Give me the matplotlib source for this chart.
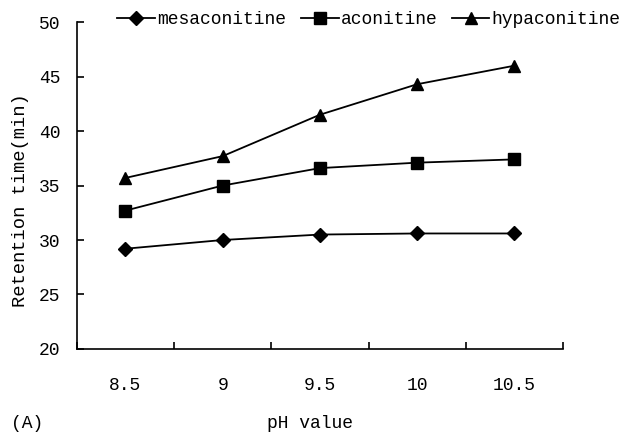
import numpy as np
import matplotlib
matplotlib.use('Agg')
import matplotlib.pyplot as plt

plt.rcParams['font.family'] = ['Liberation Mono', 'DejaVu Sans Mono']

# pH categories and retention times (min)
ph_labels = ['8.5', '9', '9.5', '10', '10.5']
mesaconitine = [29.2, 30.0, 30.5, 30.6, 30.6]
aconitine = [32.7, 35.0, 36.6, 37.1, 37.4]
hypaconitine = [35.7, 37.7, 41.5, 44.3, 46.0]

x = np.arange(len(ph_labels))

fig = plt.figure(figsize=(6.2, 4.34), dpi=100)
ax = fig.add_axes([0.124, 0.196, 0.784, 0.753])

ax.plot(x, mesaconitine, color='black', lw=1.3, marker='D', markersize=7, label='mesaconitine')
ax.plot(x, aconitine, color='black', lw=1.3, marker='s', markersize=8, label='aconitine')
ax.plot(x, hypaconitine, color='black', lw=1.3, marker='^', markersize=9, label='hypaconitine')

ax.set_xlim(-0.5, len(ph_labels) - 0.5)
ax.set_ylim(20, 50)
ax.set_yticks([20, 25, 30, 35, 40, 45, 50])
ax.set_xticks(x)
ax.set_xticklabels(ph_labels, fontsize=13)
ax.set_xticks(np.arange(-0.5, len(ph_labels), 1.0), minor=True)
ax.tick_params(axis='x', which='major', length=0, pad=20)
ax.tick_params(axis='x', which='minor', direction='in', length=5, width=1.2)
ax.tick_params(axis='y', direction='in', length=5, width=1.2, pad=12, labelsize=13)

ax.spines['top'].set_visible(False)
ax.spines['right'].set_visible(False)
ax.spines['left'].set_linewidth(1.2)
ax.spines['bottom'].set_linewidth(1.2)

fig.text(0.033, 0.54, 'Retention time(min)', fontsize=13.5, rotation=90,
         ha='center', va='center')
fig.text(0.5, 0.025, 'pH value', fontsize=13, ha='center', va='center')
fig.text(0.017, 0.025, '(A)', fontsize=13, ha='left', va='center')

fig.legend(loc='center', bbox_to_anchor=(0.595, 0.955), ncol=3, frameon=False,
           fontsize=13, handlelength=2.1, handletextpad=0.1, columnspacing=0.8,
           borderaxespad=0)

fig.savefig('out.png', dpi=100)
